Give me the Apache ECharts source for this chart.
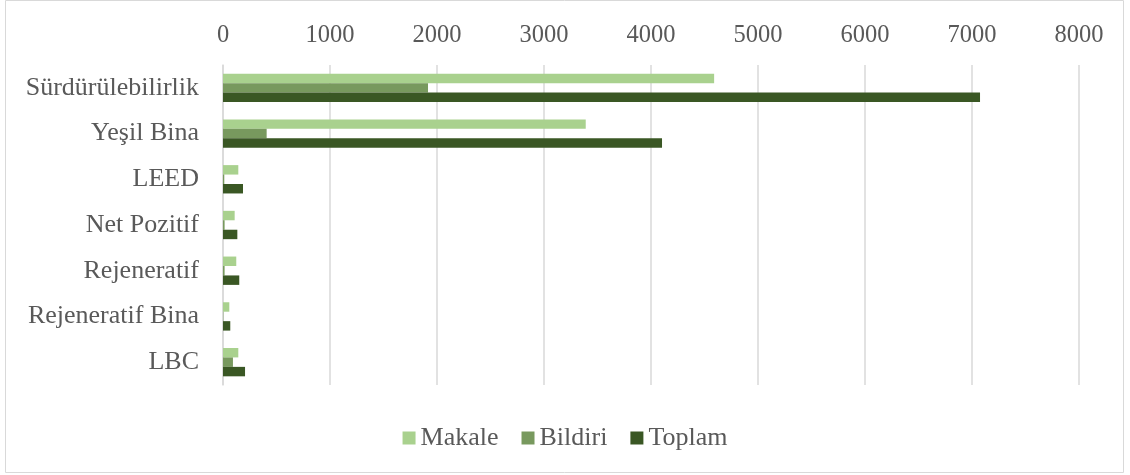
<!DOCTYPE html>
<html><head><meta charset="utf-8">
<script src="https://cdn.jsdelivr.net/npm/echarts@6/dist/echarts.min.js"></script>
<style>html,body{margin:0;padding:0;background:#fff}#c{width:1130px;height:475px}</style>
</head><body><div id="c"></div>
<script>
var categories = ['Sürdürülebilirlik','Yeşil Bina','LEED','Net Pozitif','Rejeneratif','Rejeneratif Bina','LBC'];
var makale = [4590, 3390, 143, 109, 124, 59, 143];
var bildiri = [1916, 408, 12, 15, 15, 3, 93];
var toplam = [7075, 4103, 187, 134, 152, 68, 206];
var seriesNames = ['Makale','Bildiri','Toplam'];
var colors = ['#A9D18E','#78995E','#3A5724'];
var font = 'Liberation Serif';
var chart = echarts.init(document.getElementById('c'));
var dataSets = [makale, bildiri, toplam];
chart.setOption({
  animation:false,
  grid:{left:223,right:51,top:65,bottom:90,containLabel:false},
  legend:{bottom:19,left:'center',itemWidth:13,itemHeight:13,itemGap:23,icon:'rect',
    textStyle:{fontFamily:font,fontSize:26,color:'#595959'},data:seriesNames},
  xAxis:{type:'value',position:'top',min:0,max:8000,interval:1000,
    axisLine:{show:false},axisTick:{show:false},
    axisLabel:{fontFamily:font,fontSize:24.5,color:'#595959',margin:17,formatter:function(v){return String(v);}},
    splitLine:{lineStyle:{color:'#D9D9D9',width:1.5}}},
  yAxis:{type:'category',data:categories,inverse:true,
    axisLine:{show:true,lineStyle:{color:'#D9D9D9',width:1.5}},axisTick:{show:false},
    axisLabel:{fontFamily:font,fontSize:26,color:'#595959',margin:24}},
  graphic:[{type:'rect',shape:{x:5.5,y:0.5,width:1118,height:472},style:{fill:null,stroke:'#D9D9D9',lineWidth:1}}],
  series: dataSets.map(function(d,i){return {name:seriesNames[i],type:'bar',data:d,barGap:'0%',barCategoryGap:'38%',itemStyle:{color:colors[i]}};})
});
</script></body></html>
